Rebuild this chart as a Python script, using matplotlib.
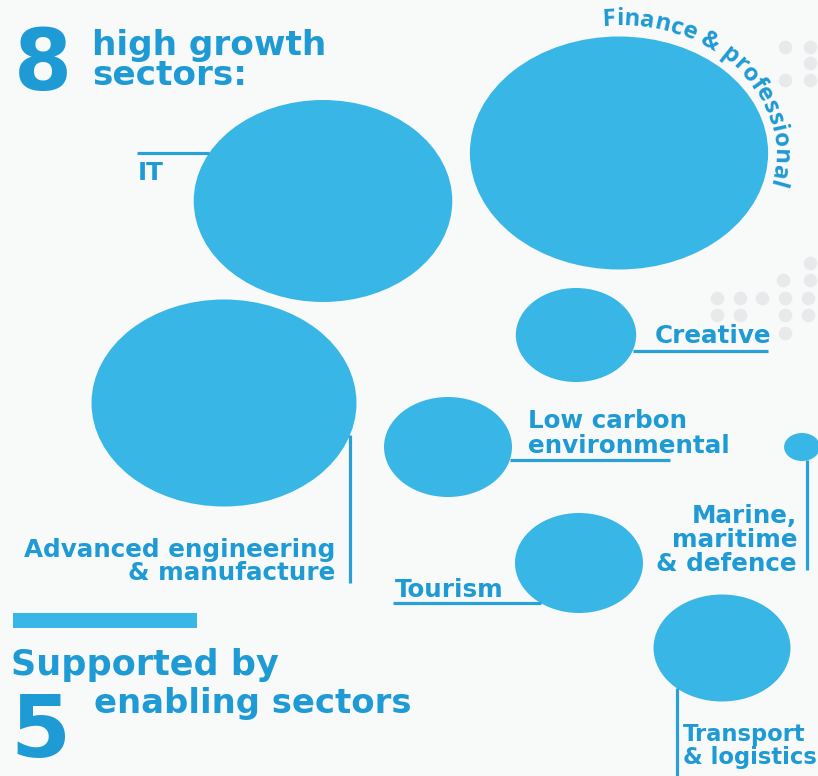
import numpy as np
import matplotlib
matplotlib.use("Agg")
import matplotlib.pyplot as plt
from matplotlib.patches import Ellipse
from matplotlib.font_manager import FontProperties, findfont, get_font

# ---- data -------------------------------------------------------------
sectors = [
    "IT",
    "Finance & professional",
    "Advanced engineering\n& manufacture",
    "Creative",
    "Low carbon\nenvironmental",
    "Tourism",
    "Marine,\nmaritime\n& defence",
    "Transport\n& logistics",
]
bubble_size = [202, 233, 207, 94, 100, 100, 28, 107]

growth_count = "8"
growth_text = ["high growth", "sectors:"]
enabling_lead = "Supported by"
enabling_count = "5"
enabling_text = "enabling sectors"

# ---- layout / style ---------------------------------------------------
W, H, DPI = 818, 776, 100
STRETCH = 1.28                      # bubbles are drawn wider than tall
BG = "#f8f9f9"
BUBBLE = "#38b6e6"
INK = "#1e9ad4"
LINE = "#2aa0d8"
DOT = "#e8e9ea"

centers = [(323, 201), (619, 153), (224, 403), (576, 335),
           (448, 447), (579, 563), (802, 447), (722, 648)]

# label anchor: (x, first baseline, alignment, line step, font size)
label_pos = {
    0: (138, 180, "left", 24, 17.7),
    2: (335, 557, "right", 23, 17.7),
    3: (655, 343, "left", 24, 17.7),
    4: (528, 428, "left", 25, 17.7),
    5: (395, 597, "left", 24, 17.7),
    6: (797, 523, "right", 24, 17.7),
    7: (683, 741, "left", 23, 16.3),
}
# leader lines: (kind, fixed coord, far end, bubble side)
leaders = {
    0: ("h", 153, 137, "left"),
    2: ("v", 350, 583, "bottom"),
    3: ("h", 351, 768, "right"),
    4: ("h", 460, 670, "right"),
    5: ("h", 603, 393, "left"),
    6: ("v", 807, 570, "bottom"),
    7: ("v", 677, 780, "bottom"),
}

LABEL_FONT = dict(family="DejaVu Sans", weight="bold", color=INK)

fig = plt.figure(figsize=(W / DPI, H / DPI), dpi=DPI, facecolor=BG)
ax = fig.add_axes([0, 0, 1, 1])
ax.set_xlim(0, W)
ax.set_ylim(H, 0)
ax.set_facecolor(BG)
ax.axis("off")

# decorative dot grid
dots_x = [785, 810, 810, 785, 810,
          810, 783, 810, 717, 740, 762, 785, 808, 717, 740, 785, 808, 785]
dots_y = [47, 47, 63, 80, 80,
          263, 280, 280, 298, 298, 298, 298, 298, 315, 315, 315, 315, 333]
ax.scatter(dots_x, dots_y, s=95, color=DOT, lw=0, zorder=1)

# bubbles
def ellipse_dims(i):
    h = bubble_size[i]
    return h * STRETCH, h

for i, (cx, cy) in enumerate(centers):
    w, h = ellipse_dims(i)
    ax.add_patch(Ellipse((cx, cy), w, h, facecolor=BUBBLE, edgecolor="none", zorder=2))

def edge_point(i, kind, c, side):
    cx, cy = centers[i]
    w, h = ellipse_dims(i)
    a, b = w / 2, h / 2
    if kind == "h":
        dx = a * np.sqrt(max(0.0, 1 - ((c - cy) / b) ** 2))
        return cx - dx if side == "left" else cx + dx
    dy = b * np.sqrt(max(0.0, 1 - ((c - cx) / a) ** 2))
    return cy + dy if side == "bottom" else cy - dy

for i, (kind, c, far, side) in leaders.items():
    e = edge_point(i, kind, c, side)
    if kind == "h":
        ax.plot([far, e], [c, c], color=LINE, lw=2.3, solid_capstyle="butt", zorder=3)
    else:
        ax.plot([c, c], [e, far], color=LINE, lw=2.3, solid_capstyle="butt", zorder=3)

for i, (x, y0, ha, step, fs) in label_pos.items():
    for k, line in enumerate(sectors[i].split("\n")):
        ax.text(x, y0 + k * step, line, ha=ha, va="baseline", size=fs,
                zorder=4, **LABEL_FONT)

# curved label around the finance bubble
def arc_label(text, center, rx, ry, t_start, size_pt, family, weight):
    fp = FontProperties(family=family, weight=weight, size=size_pt)
    font = get_font(findfont(fp))
    font.set_size(size_pt, DPI)
    adv = np.array([font.load_char(ord(ch)).linearHoriAdvance / 65536.0 for ch in text])
    mids = np.cumsum(adv) - adv / 2
    t = np.radians(np.linspace(t_start, t_start - 220, 4000))
    xs = center[0] + rx * np.cos(t)
    ys = center[1] - ry * np.sin(t)
    s = np.concatenate([[0], np.cumsum(np.hypot(np.diff(xs), np.diff(ys)))])
    for ch, m in zip(text, mids):
        tt = np.interp(m, s, t)
        x = center[0] + rx * np.cos(tt)
        y = center[1] - ry * np.sin(tt)
        ang = np.degrees(np.arctan2(-ry * np.cos(tt), rx * np.sin(tt)))
        ax.text(x, y, ch, rotation=ang, rotation_mode="anchor", ha="center",
                va="baseline", fontproperties=fp, color=INK, zorder=4)

arc_label(sectors[1], centers[1], 155, 128, 96, 17.3, "Open Sans", "bold")

# headings
HEAD = dict(family="DejaVu Sans", weight="bold", color=INK)
ax.text(14, 90, growth_count, ha="left", va="baseline", size=60, **HEAD)
ax.text(92, 55, growth_text[0], ha="left", va="baseline", size=24.7, **HEAD)
ax.text(92, 85, growth_text[1], ha="left", va="baseline", size=24.7, **HEAD)

ax.add_patch(plt.Rectangle((13, 613), 184, 15, facecolor=BUBBLE, edgecolor="none"))
ax.text(11, 675, enabling_lead, ha="left", va="baseline", size=25.2, **HEAD)
ax.text(10, 757, enabling_count, ha="left", va="baseline", size=62, **HEAD)
ax.text(94, 713, enabling_text, ha="left", va="baseline", size=24.4, **HEAD)

fig.savefig("out.png", dpi=DPI, facecolor=BG)
